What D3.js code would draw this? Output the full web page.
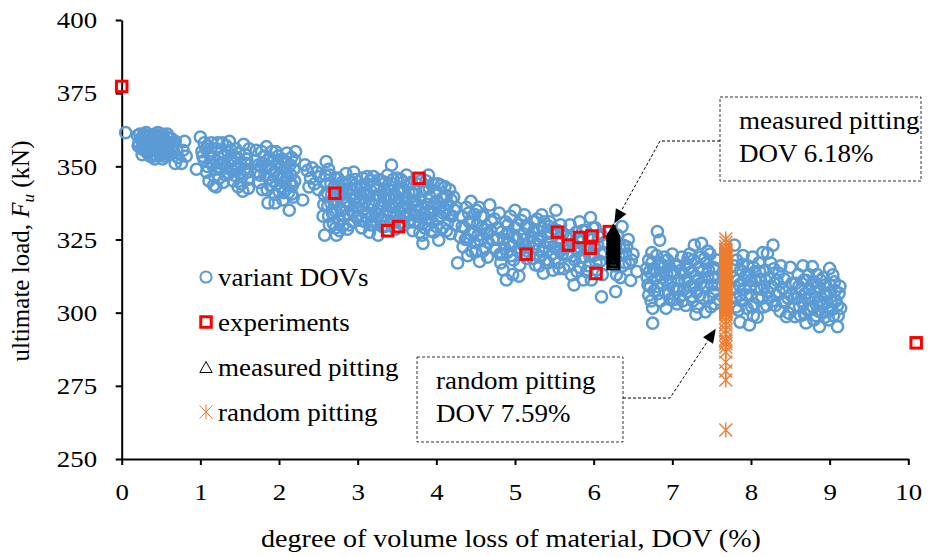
<!DOCTYPE html>
<meta charset="utf-8">
<style>
body { margin: 0; background: #fff; }
text { font-family: "Liberation Serif", "Times New Roman", serif; fill: #000; }
.axis path, .axis line { stroke: #000; stroke-width: 2px; }
.dot { fill: none; stroke: #5B9BD5; stroke-width: 2.5px; }
.exp { fill: none; stroke: #FF0000; stroke-width: 3px; }
.tri { fill: none; stroke: #000; stroke-width: 1.5px; }
.ast { fill: none; stroke: #ED7D31; stroke-width: 1.4px; }
.callout { fill: none; stroke: #333; stroke-width: 1px; stroke-dasharray: 3,2; }
</style>
<body>
<script src="https://d3js.org/d3.v7.min.js"></script>
<div id="draw"></div>
<script>

// variant DOVs: [DOV %, Fu kN]
var variantDOVs = [
  // ~0 - 0.8
  [0.05,361.5],[0.2,360.5],[0.22,358],[0.25,356],[0.28,361],[0.3,359],[0.32,357],[0.33,354.5],[0.35,360.5],[0.37,358.5],
  [0.38,356],[0.4,353.5],[0.42,361],[0.43,359],[0.44,357],[0.45,355],[0.47,360],[0.48,358],[0.5,356.5],[0.5,354],
  [0.52,361],[0.53,359.5],[0.55,357.5],[0.56,355.5],[0.58,360],[0.6,358],[0.6,356],[0.62,354],[0.63,359.5],[0.65,357],
  [0.27,357.5],[0.35,355],[0.41,357.5],[0.46,361.5],[0.54,353.5],[0.3,360],[0.39,360],[0.49,359],[0.57,357],[0.66,355],
  [0.24,359.5],[0.36,357],[0.45,356],[0.58,361],[0.68,351],[0.76,351],[0.8,358.5],[0.78,355.5],[0.82,353.5],[0.72,353],
  // 1 - 1.6
  [0.95,349],[1.0,360],[1.02,355],[1.05,352],[1.08,348],[1.1,357],[1.12,354],[1.15,350.5],[1.18,346.5],[1.2,343],
  [1.2,356],[1.23,353],[1.25,349],[1.28,358],[1.3,351],[1.32,347],[1.35,355],[1.37,358.5],[1.38,352.5],[1.4,349],
  [1.42,345],[1.45,356],[1.47,353],[1.48,350],[1.5,347.5],[1.52,344],[1.54,341.5],[1.55,357.5],[1.57,354],[1.58,351],
  [1.6,348],[1.6,345.5],[1.13,351.5],[1.27,355],[1.34,349.5],[1.44,351],[1.24,346],[1.05,358],[1.62,356],[1.48,343],
  // 1.7 - 2.5
  [1.7,352],[1.72,348],[1.75,344.5],[1.78,355],[1.8,351],[1.82,347],[1.84,356.7],[1.85,342],[1.86,337.5],[1.88,353],
  [1.9,349],[1.92,345],[1.95,340.5],[1.96,355],[1.98,351.5],[2.0,347],[2.02,343],[2.04,352.5],[2.05,338.5],[2.07,349],
  [2.08,345],[2.1,354.5],[2.12,341],[2.13,335],[2.14,350.5],[2.15,347],[2.17,343.5],[2.18,339.5],[2.2,352],[2.2,345],
  [1.77,350],[1.93,352],[2.0,341.5],[2.1,348.5],[1.87,346],[2.16,353],
  [2.3,338.5],[2.33,350.5],[2.36,348.5],[2.4,346],[2.42,349.5],[2.45,344],[2.48,348],[2.5,342],[2.52,346.5],[2.38,343],
  // 2.55 - 3.0
  [2.56,333],[2.58,326.5],[2.58,340],[2.6,351.6],[2.6,344],[2.62,336.5],[2.64,330],[2.65,347],[2.67,340.5],[2.68,334],
  [2.7,343],[2.72,329],[2.73,326.5],[2.74,337],[2.75,346],[2.77,332],[2.78,340],[2.8,344.5],[2.8,335],[2.82,330],
  [2.84,338],[2.85,347.5],[2.86,342],[2.88,333.5],[2.9,336.5],[2.9,345],[2.92,340],[2.94,331],[2.95,348],[2.96,343.5],
  [2.98,336],[2.98,339.5],[2.66,337.5],[2.76,343],[2.87,328.5],[2.63,349],
  // 3.0 - 3.6
  [3.0,333],[3.02,338],[3.03,343],[3.05,329],[3.06,346],[3.08,335.5],[3.1,340.5],[3.1,331],[3.12,344],[3.14,337],
  [3.15,327.5],[3.17,341.5],[3.18,333],[3.2,346.5],[3.2,330],[3.22,338.5],[3.24,343],[3.25,335],[3.26,326.5],[3.28,340],
  [3.3,332],[3.3,345],[3.32,337],[3.34,342],[3.35,329.5],[3.37,334.5],[3.38,347],[3.4,339],[3.42,331],[3.43,350.4],
  [3.44,344],[3.45,336],[3.47,340.5],[3.48,328.5],[3.5,333],[3.5,346],[3.52,338],[3.54,342.5],[3.55,330.5],[3.56,335.5],
  [3.58,344.5],[3.6,339],[3.6,332.5],[3.07,341],[3.16,345],[3.27,333.5],[3.36,340],[3.46,333.5],[3.13,334],[3.39,336.5],
  [3.23,331.5],[3.57,341],
  // 3.6 - 4.3
  [3.62,347],[3.64,336],[3.65,341],[3.66,331],[3.68,344.5],[3.7,328],[3.7,338],[3.72,333.5],[3.74,341.5],[3.76,336.5],
  [3.78,330.5],[3.8,345],[3.8,339],[3.82,326.5],[3.83,323.7],[3.84,334],[3.86,342],[3.88,337],[3.9,347],[3.9,330],
  [3.92,339.5],[3.94,334],[3.96,344],[3.97,327.5],[3.98,337.5],[4.0,341],[4.02,332],[4.03,324.8],[4.04,336],[4.06,343.5],
  [4.08,329],[4.1,339],[4.12,334.5],[4.14,330.5],[4.15,337],[4.17,342],[4.18,327],[4.2,333],[4.22,339.5],[4.24,330],
  [4.25,336],[3.73,335],[3.87,332],[4.01,338],[4.13,340],[3.95,331],
  // 4.3 - 4.7
  [4.3,326],[4.32,333],[4.34,322.5],[4.36,329],[4.38,336],[4.4,325],[4.42,331],[4.44,338],[4.45,321],[4.47,327.5],
  [4.49,333.5],[4.5,320.8],[4.52,330],[4.54,336],[4.56,324.5],[4.58,329],[4.6,333],[4.62,322],[4.64,327],[4.65,319],
  [4.68,336.8],[4.7,331],[4.72,325],[4.27,317],[4.4,319.5],[4.55,317.5],
  // 4.75 - 5.2
  [4.75,322],[4.78,329],[4.8,334],[4.82,317],[4.85,314.6],[4.86,325],[4.88,331],[4.89,311.2],[4.9,320.5],[4.92,327],
  [4.94,333],[4.96,323],[4.98,318],[5.0,335],[5.0,329],[5.02,325.5],[5.04,321],[5.06,316.3],[5.08,331.5],[5.1,327],
  [5.12,333.4],[5.12,322.5],[5.15,318.5],[5.17,329],[5.18,324],[4.84,320],[4.97,313],[5.05,312.5],
  // 5.2 - 5.6
  [5.22,322],[5.24,328],[5.26,316.3],[5.28,332],[5.3,325],[5.32,319],[5.34,333.4],[5.35,329],[5.36,313.5],[5.38,322.5],
  [5.4,327],[5.42,317],[5.44,331],[5.45,324],[5.47,320],[5.48,314.5],[5.5,328.5],[5.52,335],[5.53,322],[5.55,317],
  [5.56,325.5],[5.58,330],[5.6,320],[5.62,315],[5.3,321.5],[5.43,326],[5.57,321],
  // 5.65 - 6.15
  [5.65,326],[5.67,320],[5.7,330],[5.72,312.9],[5.74,323.5],[5.76,318],[5.78,327.5],[5.8,321],[5.82,331],[5.83,315.5],
  [5.85,324.5],[5.87,311.2],[5.88,319],[5.9,328],[5.92,322.5],[5.94,316],[5.96,332.5],[5.97,311.2],[5.98,325],[6.0,319.5],
  [6.02,329],[6.04,314.6],[6.05,323],[6.08,317.5],[6.1,305.4],[6.1,326.5],[6.12,320.5],[5.75,309.5],
  // 6.2 - 6.55
  [6.25,322],[6.27,316],[6.28,307.2],[6.3,326.5],[6.32,319.5],[6.34,312],[6.36,329.4],[6.38,323],[6.4,317],[6.42,322.5],
  [6.45,316.9],[6.47,311],[6.5,320],[6.55,314],
  // 6.65 - 7.05
  [6.68,312],[6.7,306],[6.7,318],[6.72,309],[6.75,296.4],[6.75,301.5],[6.76,315],[6.78,311.5],[6.8,319.5],[6.81,327.7],
  [6.84,324.8],[6.82,306.5],[6.84,313],[6.86,316.5],[6.88,309.5],[6.9,319],[6.92,301.5],[6.93,313],[6.95,306.5],[6.96,316],
  [6.98,310.5],[7.0,320],[7.02,304.5],[7.03,313.5],[7.05,308],[6.74,320.5],
  // 7.05 - 7.6
  [7.07,316],[7.08,311],[7.1,305.5],[7.12,319],[7.14,313.5],[7.15,308],[7.17,302.5],[7.18,316.5],[7.2,311],[7.22,320],
  [7.24,305.5],[7.25,314],[7.27,309],[7.28,323.1],[7.3,317],[7.32,302],[7.33,311.5],[7.35,306],[7.36,319],[7.37,323.7],
  [7.38,314],[7.4,309],[7.42,300.3],[7.43,317],[7.45,312],[7.47,305],[7.48,320],[7.5,309.5],[7.52,315.5],[7.54,303],
  [7.55,312],[7.57,318],[7.3,299.5],
  // 7.75 - 8.45
  [7.78,312],[7.8,305],[7.79,323.1],[7.82,318],[7.84,300.9],[7.85,309.5],[7.87,314.5],[7.88,304],[7.9,319.5],[7.92,308],
  [7.93,312.5],[7.95,301.5],[7.96,316],[7.98,295.8],[8.0,306],[8.0,311],[8.02,319],[8.04,303],[8.05,314],[8.07,308.5],
  [8.08,298.5],[8.1,317],[8.12,311.5],[8.14,305],[8.15,320.5],[8.17,309],[8.18,314.5],[8.2,302.5],[8.21,320.3],[8.22,307],
  [8.24,312],[8.25,317],[8.27,304],[8.28,323.1],[8.3,310],[8.32,306],[8.35,313.5],[8.37,300.5],[8.4,308.5],[8.43,303.5],
  [8.45,298.6],[7.86,296.8],
  // 8.5 - 9.15
  [8.5,315.5],[8.48,299.8],[8.52,310],[8.55,305],[8.56,298.6],[8.6,313],[8.62,302],[8.64,308],[8.66,316],[8.68,299.5],
  [8.7,311],[8.72,304.5],[8.74,308],[8.76,301],[8.78,315.7],[8.8,297.5],[8.8,310.5],[8.82,305],[8.84,313],[8.86,300.5],
  [8.87,295.2],[8.88,308],[8.9,303],[8.92,312],[8.94,298.5],[8.96,306],[8.98,301.5],[9.0,315.1],[9.0,309.5],[9.02,304],
  [9.04,312.9],[9.05,299],[9.07,307.5],[9.1,295.2],[9.1,302.5],[9.12,306.6],[9.14,301.5],[8.7,296.5]
];

// more variant DOVs in the dense cores
var variantDOVsCore = [
  [0.21,357],[0.23,361],[0.26,358.5],[0.29,355.5],[0.31,361.5],[0.34,358],[0.36,353.5],[0.38,359.5],[0.4,355.5],[0.43,354],
  [0.44,360.5],[0.47,357],[0.49,355],[0.51,360],[0.53,357],[0.55,354.5],[0.57,358.5],[0.59,355],[0.61,359.5],[0.64,356],
  [0.26,354],[0.42,352.5],[0.52,352.5],[0.68,358.5],[0.7,355.5],
  [1.03,353.5],[1.07,356],[1.09,350],[1.11,345],[1.14,358],[1.16,353],[1.19,349],[1.21,351.5],[1.22,358],[1.26,351],
  [1.29,344.5],[1.31,354],[1.33,357],[1.36,347.5],[1.39,355.5],[1.41,352],[1.43,347],[1.46,349],[1.49,354.5],[1.51,351],
  [1.53,346.5],[1.56,349],[1.59,352.5],[1.61,342.5],[1.17,343.5],
  [1.71,355.5],[1.74,350.5],[1.76,347],[1.79,342],[1.81,353.5],[1.83,349.5],[1.86,350],[1.89,343.5],[1.91,355],[1.94,348],
  [1.97,344],[1.99,353.5],[2.01,350],[2.03,346],[2.06,341],[2.09,351.5],[2.11,346.5],[2.14,344],[2.16,340.5],[2.19,349],
  [2.21,355],[1.95,337.5],
  [2.57,337],[2.59,347],[2.61,341],[2.63,333],[2.66,344],[2.69,330.5],[2.69,338.5],[2.71,346],[2.72,334.5],[2.75,340],
  [2.77,328],[2.79,335],[2.81,341.5],[2.83,333],[2.85,344],[2.87,338],[2.89,330],[2.91,342.5],[2.93,334.5],[2.95,338.5],
  [2.97,345.5],[2.99,332.5],
  [3.01,336],[3.03,340.5],[3.04,331.5],[3.06,343.5],[3.09,338],[3.11,333],[3.12,346.5],[3.14,340],[3.16,330],[3.19,337],
  [3.21,343.5],[3.22,334],[3.25,340],[3.27,345.5],[3.29,336],[3.31,329.5],[3.33,339.5],[3.35,344.5],[3.37,331.5],[3.39,342],
  [3.41,334],[3.43,339],[3.45,345.5],[3.47,331],[3.49,337],[3.51,341.5],[3.53,335],[3.55,345.5],[3.58,336.5],[3.59,330],
  [3.63,339],[3.66,344],[3.67,333.5],[3.69,341],[3.71,331],[3.73,338],[3.75,344],[3.77,333],[3.79,327.5],[3.81,336],
  [3.83,341.5],[3.85,329],[3.87,345],[3.89,334.5],[3.91,342.5],[3.93,328],[3.95,336],[3.98,341.5],[4.0,329.5],[4.02,344],
  [4.05,333],[4.07,339],[4.09,334],[4.11,343],[4.13,328],[4.16,333.5],[4.19,338.5],[4.23,335],
  [4.33,329.5],[4.37,325],[4.41,334],[4.43,327],[4.46,331],[4.48,324],[4.51,335],[4.53,326.5],[4.57,333],[4.59,321],
  [4.61,328.5],[4.66,324],[4.69,328],[4.74,332],[4.77,325],[4.81,320],[4.83,327.5],[4.87,322],[4.91,330],[4.93,324],
  [4.95,319.5],[4.99,326],[5.03,330],[5.07,322],[5.11,325],[5.14,329.5],[5.16,321],
  [5.21,326],[5.23,318.5],[5.25,331],[5.27,323.5],[5.29,328],[5.31,316],[5.33,326],[5.35,321],[5.37,331],[5.39,318],
  [5.41,324],[5.43,329.5],[5.46,327],[5.49,322.5],[5.51,318.5],[5.54,328],[5.56,315],[5.59,324],[5.61,327],[5.63,322],
  [5.66,322.5],[5.69,316],[5.71,326],[5.73,319.5],[5.77,322],[5.79,314],[5.81,325.5],[5.84,319],[5.86,328],[5.89,322],
  [5.91,314],[5.93,326],[5.95,319.5],[5.99,329],[6.01,322],[6.03,317],[6.06,326],[6.09,320],[6.11,313],[6.14,324],
  [6.22,318],[6.26,325],[6.29,313],[6.33,322],[6.37,316],[6.41,320],[6.44,325],[6.48,318],
  [6.67,315],[6.69,309.5],[6.71,314],[6.73,304],[6.74,317],[6.77,307.5],[6.79,314.5],[6.81,309],[6.83,317],[6.85,304],
  [6.87,312],[6.89,315.5],[6.91,307],[6.92,311],[6.94,318],[6.97,304.5],[6.99,314],[7.01,308.5],[7.04,316.5],[7.06,303],
  [7.09,308],[7.11,314.5],[7.13,304],[7.16,311],[7.19,307],[7.21,315],[7.23,309],[7.26,304],[7.27,318],[7.29,312.5],
  [7.31,307],[7.34,315.5],[7.36,310],[7.39,305],[7.41,318.5],[7.44,309],[7.46,314.5],[7.49,302],[7.51,312],[7.53,307],
  [7.56,315],[7.58,309.5],[7.59,304.5],[7.45,321],[7.2,318.5],
  [7.77,308],[7.79,316],[7.81,302],[7.83,311],[7.86,306],[7.89,316.5],[7.91,311],[7.94,306],[7.97,313],[7.99,309],
  [8.01,302],[8.03,315.5],[8.06,311],[8.09,305],[8.11,314],[8.13,308],[8.16,302],[8.19,311],[8.23,305],[8.26,309],
  [8.29,315],[8.31,302.5],[8.33,311],[8.36,307],[8.38,316],[8.41,304],[8.42,311.5],[8.44,307],[8.47,305],[8.03,299],
  [8.51,306],[8.54,301.5],[8.57,310],[8.59,305],[8.61,309],[8.63,299],[8.65,304],[8.67,311],[8.69,306.5],[8.71,301],
  [8.73,313],[8.75,305],[8.77,309.5],[8.79,302],[8.81,307],[8.83,299],[8.85,309],[8.87,304],[8.89,311],[8.91,300],
  [8.93,306],[8.95,309.5],[8.97,303.5],[8.99,297.5],[9.01,307],[9.03,301],[9.06,310.5],[9.08,304],[9.11,299],[9.13,309]
];

// experiments: [DOV %, Fu kN]
var experiments = [
  [0.0,377.3],[2.71,340.8],[3.78,345.9],[3.38,328.0],[3.52,329.4],[5.14,320.0],[5.54,327.5],[5.68,323.1],
  [5.82,325.7],[5.98,326.2],[5.96,322.0],[6.03,313.4],[6.2,327.7],[10.1,289.7]
];

// measured pitting, DOV 6.18 %
var measuredDOV = 6.25;
var measuredFu = [316.3, 316.9, 317.2, 317.8, 318.3, 318.7, 319.2, 319.5, 320.1, 320.4, 320.9, 321.5, 321.8,
  322.3, 322.7, 323.2, 323.6, 324.1, 324.4, 325.0, 325.3, 325.9, 326.2, 326.8, 327.2, 327.8];

// random pitting, DOV 7.59 %
var randomDOV = 7.68;
var randomFu = [325.2, 324.0, 322.6, 321.7, 321.5, 321.1, 320.8, 320.4, 320.1, 319.8, 319.5, 319.2, 318.9,
  318.6, 318.3, 318.0, 317.7, 317.4, 317.1, 316.9, 316.6, 316.3, 316.0, 315.7, 315.5, 315.1, 314.9, 314.7,
  314.4, 314.1, 313.8, 313.5, 313.2, 312.9, 312.7, 312.3, 312.1, 311.9, 311.6, 311.3, 310.9, 310.6, 310.3,
  310.0, 309.8, 309.5, 309.2, 308.9, 308.6, 308.4, 308.1, 307.8, 307.5, 307.3, 306.9, 306.6, 306.2, 305.9,
  305.7, 305.4, 305.1, 304.9, 304.6, 304.3, 304.0, 303.7, 303.5, 303.1, 302.9, 302.7, 302.4, 302.1, 301.8,
  301.5, 301.2, 300.9, 300.6, 300.3, 300.1, 299.9, 299.4, 298.4, 297.0, 295.8, 294.1, 292.6, 291.0, 290.2,
  289.4, 288.3, 286.6, 283.1, 280.1, 277.0, 259.9];

var xTicks = [0, 1, 2, 3, 4, 5, 6, 7, 8, 9, 10];
var yTicks = [250, 275, 300, 325, 350, 375, 400];
var legendLabels = ["variant DOVs", "experiments", "measured pitting", "random pitting"];

var sx = 1.08; // horizontal text stretch

var svg = d3.select("#draw").append("svg")
    .attr("width", 934)
    .attr("height", 557);

var x = d3.scaleLinear().domain([0, 10]).range([121.7, 908.3]);
var y = d3.scaleLinear().domain([250, 400]).range([459, 20]);

var triPath = "M0,-6.5L6.2,4.5L-6.2,4.5Z";
var astPath = "M-6.5,-6.5L6.5,6.5M-6.5,6.5L6.5,-6.5M0,-7.5L0,7.5";

function label(sel, px, py, str, anchor, size) {
  return sel.append("text")
    .attr("transform", "translate(" + px + "," + py + ") scale(" + sx + ",1)")
    .attr("text-anchor", anchor || "start")
    .attr("font-size", size || 25)
    .text(str);
}

// axes
var xAxis = d3.axisBottom(x).tickValues(xTicks).tickSize(6).tickSizeOuter(0).tickPadding(18);
var yAxis = d3.axisLeft(y).tickValues(yTicks).tickSize(6).tickSizeOuter(0).tickPadding(16);

var gx = svg.append("g")
    .attr("class", "axis")
    .attr("transform", "translate(0," + y(250) + ")")
    .call(xAxis);
var gy = svg.append("g")
    .attr("class", "axis")
    .attr("transform", "translate(" + x(0) + ",0)")
    .call(yAxis);

[gx, gy].forEach(function(g) {
  g.attr("font-family", null).attr("font-size", null);
  g.selectAll("text")
    .attr("font-size", 24)
    .attr("fill", "#000")
    .attr("transform", "scale(1.12,1)");
});

// axis titles
label(svg, 511, 547, "degree of volume loss of material, DOV (%)", "middle", 26);

var yt = svg.append("text")
    .attr("transform", "translate(29,251) rotate(-90)")
    .attr("text-anchor", "middle")
    .attr("font-size", 25);
yt.append("tspan").text("ultimate load, ");
yt.append("tspan").attr("font-style", "italic").text("F");
yt.append("tspan").attr("font-style", "italic").attr("font-size", 17).attr("dy", 5).text("u");
yt.append("tspan").attr("dy", -5).text(" (kN)");

// series
svg.selectAll(".dot")
    .data(variantDOVs.concat(variantDOVsCore))
  .enter().append("circle")
    .attr("class", "dot")
    .attr("r", 5.6)
    .attr("cx", function(d) { return x(d[0]); })
    .attr("cy", function(d) { return y(d[1]); });

svg.selectAll(".exp")
    .data(experiments)
  .enter().append("rect")
    .attr("class", "exp")
    .attr("width", 10.5)
    .attr("height", 10.5)
    .attr("x", function(d) { return x(d[0]) - 5.25; })
    .attr("y", function(d) { return y(d[1]) - 5.25; });

svg.selectAll(".tri")
    .data(measuredFu)
  .enter().append("path")
    .attr("class", "tri")
    .attr("d", triPath)
    .attr("transform", function(d) { return "translate(" + x(measuredDOV) + "," + y(d) + ")"; });

svg.selectAll(".ast")
    .data(randomFu)
  .enter().append("path")
    .attr("class", "ast")
    .attr("d", astPath)
    .attr("transform", function(d) { return "translate(" + x(randomDOV) + "," + y(d) + ")"; });

// legend
var legend = svg.selectAll(".legend")
    .data(legendLabels)
  .enter().append("g")
    .attr("class", "legend")
    .attr("transform", function(d, i) { return "translate(206," + (277 + i * 45) + ")"; });

legend.each(function(d, i) {
  var g = d3.select(this);
  if (i == 0) g.append("circle").attr("class", "dot").attr("r", 5.6).style("stroke-width", "2px");
  if (i == 1) g.append("rect").attr("class", "exp").attr("x", -5.25).attr("y", -5.25).attr("width", 10.5).attr("height", 10.5);
  if (i == 2) g.append("path").attr("class", "tri").attr("d", triPath).attr("transform", "translate(0,1)").style("stroke-width", "1px");
  if (i == 3) g.append("path").attr("class", "ast").attr("d", astPath).style("stroke-width", "1px");
  label(g, 12, 9, d);
});

// callouts
function arrowHead(from, tip) {
  var dx = tip[0] - from[0], dy = tip[1] - from[1];
  var len = Math.sqrt(dx * dx + dy * dy);
  var ux = dx / len, uy = dy / len;
  var bx = tip[0] - ux * 14, by = tip[1] - uy * 14;
  svg.append("path")
    .attr("d", "M" + tip[0] + "," + tip[1] +
               "L" + (bx - uy * 6) + "," + (by + ux * 6) +
               "L" + (bx + uy * 6) + "," + (by - ux * 6) + "Z")
    .attr("fill", "#000");
  return [bx, by];
}

function callout(bx, by, bw, bh, lines, leader, tip) {
  svg.append("rect").attr("class", "callout")
    .attr("x", bx).attr("y", by).attr("width", bw).attr("height", bh);
  lines.forEach(function(t, i) {
    label(svg, bx + 19, by + 32 + i * 33, t);
  });
  var base = arrowHead(leader[leader.length - 1], tip);
  svg.append("path")
    .attr("d", d3.line()(leader.concat([base])))
    .attr("fill", "none")
    .attr("stroke", "#000")
    .attr("stroke-width", 1)
    .attr("stroke-dasharray", "3,2");
}

callout(720, 97, 201, 84, ["measured pitting", "DOV 6.18%"],
        [[720, 141], [660, 141]], [x(measuredDOV) + 1, y(330.5)]);
callout(417, 357, 206, 85, ["random pitting", "DOV 7.59%"],
        [[623, 398], [670, 398]], [x(randomDOV) - 10, y(294.5)]);

</script>
